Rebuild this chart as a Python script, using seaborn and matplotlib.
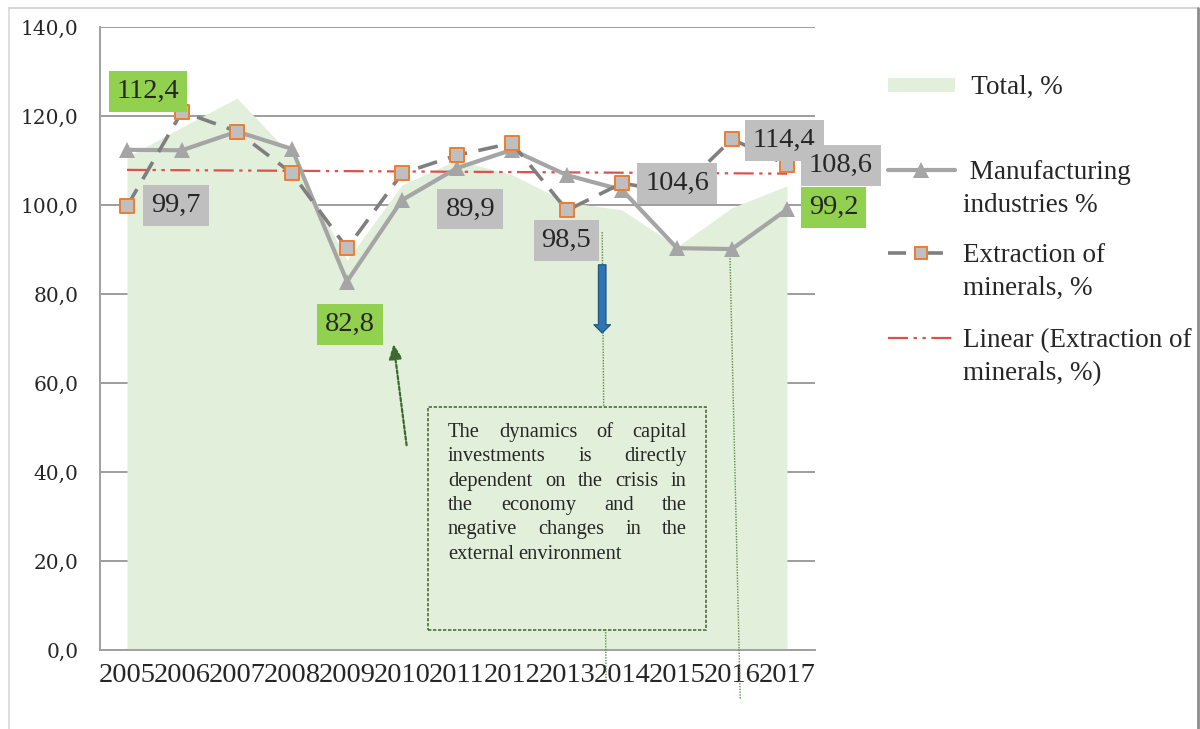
import numpy as np
import pandas as pd
import matplotlib
matplotlib.use("Agg")
import matplotlib.pyplot as plt
import seaborn as sns
from matplotlib.patches import Rectangle
from matplotlib.lines import Line2D

years = [2005, 2006, 2007, 2008, 2009, 2010, 2011, 2012, 2013, 2014, 2015, 2016, 2017]
total_pct = [110.8, 117.5, 124.0, 111.0, 87.6, 104.5, 110.1, 106.8, 100.6, 98.9, 90.6, 99.4, 104.3]
manufacturing_pct = [112.4, 112.3, 116.5, 112.6, 82.8, 101.1, 108.3, 112.4, 106.7, 103.4, 90.3, 90.1, 99.0]
extraction_pct = [99.7, 121.0, 116.5, 107.1, 90.3, 107.1, 111.2, 113.9, 98.8, 104.9, 102.8, 114.8, 109.0]

# data labels as they appear on the chart (text, year index, value level, box colour)
label_texts = ["112,4", "99,7", "82,8", "89,9", "98,5", "104,6", "114,4", "108,6", "99,2"]
label_x = [0.38, 0.89, 4.05, 6.24, 7.99, 10.0, 11.95, 12.98, 12.85]
label_y = [125.6, 99.9, 73.1, 99.1, 92.1, 104.8, 114.6, 108.8, 99.4]
label_green = [True, False, True, False, False, False, False, False, True]

note_lines = ["The dynamics of capital",
              "investments is directly",
              "dependent on the crisis in",
              "the economy and the",
              "negative changes in the",
              "external environment"]

legend_labels = [" Total, %", " Manufacturing\nindustries %", "Extraction of\nminerals, %",
                 "Linear (Extraction of\nminerals, %)"]

AREA = "#e2efda"
MANUF = "#a5a5a5"
EXTR = "#7f7f7f"
TREND = "#dc5050"
GRAY_BOX = "#bfbfbf"
GREEN_BOX = "#92d050"
ORANGE = "#ed7d31"
SERIF = ["Liberation Serif", "DejaVu Serif"]

sns.set_style("white")
plt.rcParams["font.family"] = SERIF

df = pd.DataFrame({"year": years, "idx": np.arange(len(years)),
                   "total": total_pct, "manuf": manufacturing_pct,
                   "extr": extraction_pct})

# linear trend of extraction
coef = np.polyfit(df["idx"], df["extr"], 1)
df["trend"] = np.polyval(coef, df["idx"])

fig = plt.figure(figsize=(12, 7.29), dpi=100)
ax = fig.add_axes([99.5 / 1200, 1 - 650 / 729, 715 / 1200, 623 / 729])

ax.fill_between(df["idx"], df["total"], color=AREA, lw=0, zorder=2)
sns.lineplot(data=df, x="idx", y="trend", ax=ax, color=TREND, lw=1.6,
             zorder=3, legend=False)
ax.lines[-1].set_dashes([9, 2.5, 1.5, 2.5, 1.5, 2.5])
sns.lineplot(data=df, x="idx", y="manuf", ax=ax, color=MANUF, lw=3,
             marker="^", markersize=11, markeredgewidth=0, zorder=4, legend=False)
sns.lineplot(data=df, x="idx", y="extr", ax=ax, color=EXTR, lw=2.6,
             zorder=5, legend=False)
ax.lines[-1].set_dashes([5.5, 3.2])
sns.scatterplot(data=df, x="idx", y="extr", ax=ax, marker="s", s=110,
                color=GRAY_BOX, edgecolor=ORANGE, linewidth=1.4, zorder=6,
                legend=False)

ax.set_xlim(-0.5, 12.5)
ax.set_ylim(0, 140)
ax.set_yticks(np.arange(0, 141, 20))
ax.set_yticklabels([f"{v:.1f}".replace(".", ",") for v in np.arange(0, 141, 20)],
                   fontfamily="DejaVu Serif", fontsize=14.5)
ax.set_xticks(df["idx"])
ax.set_xticklabels(years, fontsize=20.5)
ax.set_xticks(np.arange(-0.5, 12.6, 1), minor=True)
ax.tick_params(axis="x", which="major", length=0, pad=9)
ax.tick_params(axis="x", which="minor", length=5, width=1.2, color="#a0a0a0")
ax.tick_params(axis="y", length=6, width=1.2, color="#a0a0a0", pad=9)
ax.set_xlabel("")
ax.set_ylabel("")
ax.yaxis.grid(True, color="#8c8c8c", lw=1.2)
ax.set_axisbelow(True)
for s in ["top", "right"]:
    ax.spines[s].set_visible(False)
for s in ["left", "bottom"]:
    ax.spines[s].set_color("#a0a0a0")
    ax.spines[s].set_linewidth(1.4)

# data labels
for txt, lx, ly, green in zip(label_texts, label_x, label_y, label_green):
    ax.text(lx, ly, txt, fontsize=20.5, ha="center", va="center", zorder=8,
            bbox=dict(boxstyle="square,pad=0.28", fc=GREEN_BOX if green else GRAY_BOX,
                      ec="none"))

# connector lines and arrows
ax.plot([8.64, 8.71], [93.9, -7.2], color="#5b8a4a", lw=1, ls=(0, (1, 1)),
        clip_on=False, zorder=3)
ax.plot([10.96, 11.15], [89.9, -11.2], color="#5b8a4a", lw=1, ls=(0, (1, 1)),
        clip_on=False, zorder=3)
ax.annotate("", xy=(4.84, 69.4), xytext=(5.09, 45.4),
            arrowprops=dict(arrowstyle="-|>,head_length=0.9,head_width=0.4",
                            color="#3d6b2f", lw=1.6, ls=(0, (1.5, 1))), zorder=7)
ax.annotate("", xy=(8.64, 70.6), xytext=(8.64, 87.2),
            arrowprops=dict(arrowstyle="simple,head_length=0.6,head_width=1.2,tail_width=0.55",
                            fc="#2e75b6", ec="#1f4e79", lw=0.8), zorder=7)

# note box with justified text
ax.add_patch(Rectangle((5.47, 4.5), 5.06, 50.1, fc=AREA, ec="#4a6f3a", lw=1.2,
                       ls=(0, (2, 1)), zorder=5))
fig.canvas.draw()
renderer = fig.canvas.get_renderer()
px_x = ax.transData.transform((1, 0))[0] - ax.transData.transform((0, 0))[0]
x_left, x_right = 5.836, 10.18
base_y, line_step = 47.9, 5.48
for i, line in enumerate(note_lines):
    words = line.split()
    items = [ax.text(0, 0, w, fontsize=14.8, va="baseline", ha="left", zorder=6)
             for w in words]
    widths = [t.get_window_extent(renderer).width / px_x for t in items]
    last = i == len(note_lines) - 1
    if last or len(words) == 1:
        gap = 0.08
    else:
        gap = (x_right - x_left - sum(widths)) / (len(words) - 1)
    x = x_left
    for t, w in zip(items, widths):
        t.set_position((x, base_y - i * line_step))
        x += w + gap

# legend, laid out by hand so each key sits on the first line of its label
W, H = 1200.0, 729.0
key_x0, key_x1 = 888 / W, 955 / W
key_y = [85, 170, 253, 338]
text_x = [965, 963, 963, 963]
fig.add_artist(Rectangle((key_x0, 1 - 92 / H), key_x1 - key_x0, 14 / H, fc=AREA,
                         ec="none", transform=fig.transFigure))
fig.add_artist(Line2D([key_x0, key_x1], [1 - key_y[1] / H] * 2, color=MANUF, lw=3))
fig.add_artist(Line2D([(key_x0 + key_x1) / 2], [1 - key_y[1] / H], color=MANUF, lw=0,
                      marker="^", markersize=11, markeredgewidth=0))
fig.add_artist(Line2D([key_x0, key_x1], [1 - key_y[2] / H] * 2, color=EXTR, lw=2.6,
                      dashes=[5, 5.2]))
fig.add_artist(Line2D([(key_x0 + key_x1) / 2], [1 - key_y[2] / H], lw=0, marker="s",
                      markersize=9, markerfacecolor=GRAY_BOX, markeredgecolor=ORANGE,
                      markeredgewidth=1.4))
fig.add_artist(Line2D([key_x0, key_x1], [1 - key_y[3] / H] * 2, color=TREND, lw=1.6,
                      dashes=[9, 2.5, 1.5, 2.5, 1.5, 2.5]))
for lab, tx, ky in zip(legend_labels, text_x, key_y):
    fig.text(tx / W, 1 - (ky - 10) / H, lab, fontsize=19.5, va="top", ha="left",
             linespacing=1.42)

# outer frame
fig.add_artist(Line2D([9 / W, 9 / W], [0, 1 - 8 / H], color="#d9d9d9", lw=1.2))
fig.add_artist(Line2D([9 / W, 1198 / W], [1 - 8 / H, 1 - 8 / H], color="#d0d0d0", lw=1.2))
fig.add_artist(Line2D([1198 / W, 1198 / W], [0, 1 - 8 / H], color="#8c8c8c", lw=2))

fig.savefig("out.png", dpi=100, facecolor="white")
